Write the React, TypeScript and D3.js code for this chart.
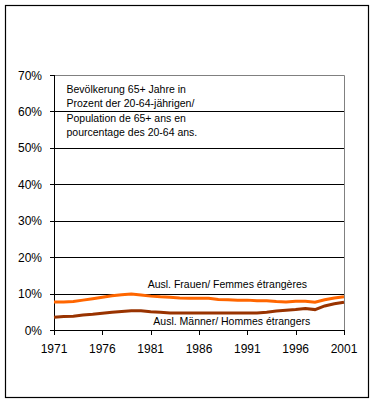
import React from "react";
import * as d3 from "d3";

const years: number[] = d3.range(1971, 2002);
const women: number[] = [
  7.7, 7.7, 7.8, 8.2, 8.6, 9.0, 9.4, 9.7, 9.9, 9.6,
  9.3, 9.1, 9.0, 8.8, 8.7, 8.7, 8.7, 8.4, 8.3, 8.2,
  8.2, 8.0, 8.0, 7.8, 7.7, 7.9, 7.9, 7.6, 8.3, 8.8, 9.1,
];
const men: number[] = [
  3.5, 3.7, 3.8, 4.1, 4.3, 4.6, 4.9, 5.1, 5.3, 5.3,
  5.0, 4.9, 4.7, 4.7, 4.7, 4.7, 4.7, 4.7, 4.7, 4.7,
  4.7, 4.7, 4.9, 5.2, 5.4, 5.6, 5.9, 5.6, 6.6, 7.2, 7.6,
];
const yTicks: number[] = [0, 10, 20, 30, 40, 50, 60, 70];
const xTicks: number[] = [1971, 1976, 1981, 1986, 1991, 1996, 2001];
const boxLines: string[] = [
  "Bevölkerung 65+ Jahre in",
  "Prozent der 20-64-jährigen/",
  "Population de 65+ ans en",
  "pourcentage des 20-64 ans.",
];
const womenLabel = "Ausl. Frauen/ Femmes étrangères";
const menLabel = "Ausl. Männer/ Hommes étrangers";

const FONT = "'Liberation Sans', Arial, sans-serif";

export default function App() {
  const x = d3.scaleLinear().domain([1971, 2001]).range([54, 344]);
  const y = d3.scaleLinear().domain([0, 70]).range([330, 75]);
  const line = d3
    .line<number>()
    .x((_, i) => x(years[i]))
    .y((d) => y(d));

  return (
    <div style={{ position: "absolute", left: 0, top: 0 }}>
      <svg width={375} height={408} style={{ display: "block" }}>
        <rect x={0} y={0} width={375} height={408} fill="#fff" />
        <rect x={5.5} y={5.5} width={363} height={392} fill="none" stroke="#000" strokeWidth={1.2} />
        {/* gridlines */}
        {yTicks.filter((t) => t > 0 && t < 70).map((t) => (
          <line key={t} x1={54} x2={344} y1={Math.round(y(t)) + 0.5} y2={Math.round(y(t)) + 0.5} stroke="#000" strokeWidth={1} />
        ))}
        {/* plot border (gray) */}
        <line x1={54} x2={344.5} y1={75.5} y2={75.5} stroke="#808080" strokeWidth={1} />
        <line x1={344.5} x2={344.5} y1={75.5} y2={330} stroke="#808080" strokeWidth={1} />
        {/* axes */}
        <line x1={54.5} x2={54.5} y1={75} y2={330.5} stroke="#000" strokeWidth={1} />
        <line x1={54} x2={345} y1={330.5} y2={330.5} stroke="#000" strokeWidth={1} />
        {yTicks.map((t) => (
          <g key={t}>
            <line x1={50} x2={54} y1={Math.round(y(t)) + 0.5} y2={Math.round(y(t)) + 0.5} stroke="#000" />
            <text x={42} y={y(t) + 4.5} textAnchor="end" fontFamily={FONT} fontSize={12} fill="#000">
              {t}%
            </text>
          </g>
        ))}
        {xTicks.map((t) => (
          <g key={t}>
            <line x1={Math.round(x(t)) + 0.5} x2={Math.round(x(t)) + 0.5} y1={330} y2={335} stroke="#000" />
            <text x={x(t)} y={352.5} textAnchor="middle" fontFamily={FONT} fontSize={12} fill="#000">
              {t}
            </text>
          </g>
        ))}
        {/* series */}
        <path d={line(men) || ""} fill="none" stroke="#993300" strokeWidth={3} />
        <path d={line(women) || ""} fill="none" stroke="#FF6600" strokeWidth={3} />
        {/* labels */}
        {boxLines.map((s, i) => (
          <text key={i} x={66.5} y={93 + i * 14.3} fontFamily={FONT} fontSize={10.5} fill="#000">
            {s}
          </text>
        ))}
        <text x={147.7} y={288} fontFamily={FONT} fontSize={10.5} fill="#000">
          {womenLabel}
        </text>
        <text x={153.3} y={325} fontFamily={FONT} fontSize={10.5} fill="#000">
          {menLabel}
        </text>
      </svg>
    </div>
  );
}
